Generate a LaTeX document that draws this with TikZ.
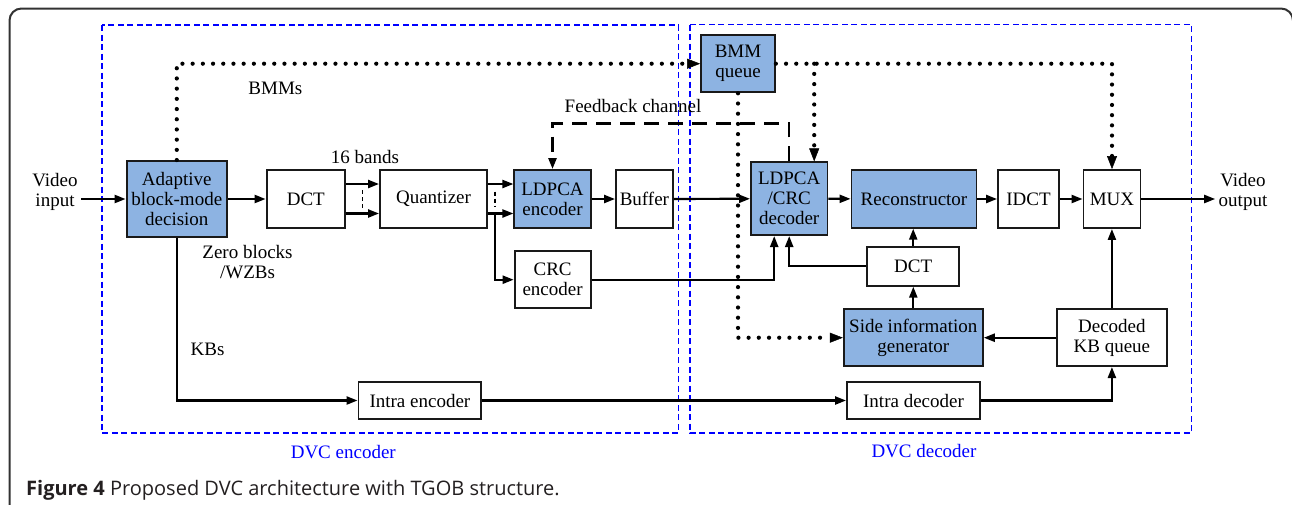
\documentclass[tikz,border=0pt]{standalone}
\usepackage{fontspec}
\setmainfont{Liberation Serif}
\newfontfamily\capfont{Open Sans}
\usetikzlibrary{arrows.meta,calc}
\definecolor{boxblue}{RGB}{141,179,226}
\definecolor{framegray}{RGB}{50,50,50}
\definecolor{captext}{RGB}{35,31,32}
\begin{document}
\begin{tikzpicture}[x=1pt,y=-1pt,
  blk/.style={draw=black!90,line width=1.9pt,inner sep=0pt,align=center,font=\fontsize{19}{20}\selectfont},
  fblk/.style={blk,fill=boxblue},
  lbl/.style={align=center,font=\fontsize{19}{20}\selectfont},
  flow/.style={line width=2.2pt,-{Triangle[length=11pt,width=8pt]}},
  dots/.style={line width=4.2pt,line cap=round,dash pattern=on 0pt off 10.2pt,-{Triangle[length=13pt,width=10pt,line width=0.5pt]}},
  feed/.style={line width=2.4pt,dash pattern=on 15pt off 9pt,-{Triangle[length=11pt,width=8pt]}},
  region/.style={blue,line width=1.5pt,dash pattern=on 6pt off 3.5pt},
  ellip/.style={line width=1.1pt,dash pattern=on 4pt off 3pt}]
\useasboundingbox (0,0) rectangle (1292,504);
\clip (0,0) rectangle (1292,504);
% frame and the two dashed parts
\draw[framegray,line width=2pt,rounded corners=12pt] (9.5,530) -- (9.5,8.5) -- (1293,8.5) -- (1293,530);
\draw[region] (101.8,25) rectangle (678.5,433);
\draw[region] (689.8,24.5) rectangle (1191.5,433);
% boxes of encoder
\node[fblk,minimum width=100.5pt,minimum height=76pt] (abmd) at (176.8,199) {Adaptive\\block-mode\\decision};
\node[blk,minimum width=78.5pt,minimum height=58pt] (dcte) at (305.8,199) {DCT};
\node[blk,minimum width=107pt,minimum height=57.5pt] (quant) at (433.5,199) {Quantizer};
\node[fblk,minimum width=76.3pt,minimum height=58pt] (ldpce) at (552.5,199) {LDPCA\\encoder};
\node[blk,minimum width=56.8pt,minimum height=58pt] (buffer) at (644.4,199) {Buffer};
\node[blk,minimum width=76pt,minimum height=57pt] (crce) at (552.6,279.7) {CRC\\encoder};
\node[blk,minimum width=122.8pt,minimum height=37.6pt] (intrae) at (419.9,400.5) {Intra encoder};
% boxes of decoder
\node[fblk,minimum width=73.8pt,minimum height=57.3pt] (bmmq) at (738,63.7) {BMM\\queue};
\node[fblk,minimum width=76.5pt,minimum height=72.7pt] (ldpcd) at (789.2,198.7) {LDPCA\\/CRC\\decoder};
\node[fblk,minimum width=125pt,minimum height=57.5pt] (recon) at (914,199) {Reconstructor};
\node[blk,minimum width=61pt,minimum height=58pt] (idct) at (1028.5,199) {IDCT};
\node[blk,minimum width=57pt,minimum height=58pt] (mux) at (1112,199) {MUX};
\node[blk,minimum width=92.4pt,minimum height=39pt] (dctd) at (913.2,266.2) {DCT};
\node[fblk,minimum width=139pt,minimum height=56.7pt] (sig) at (913.3,337.7) {Side information\\generator};
\node[blk,minimum width=110.6pt,minimum height=56.7pt] (kbq) at (1111.9,337.7) {Decoded\\KB queue};
\node[blk,minimum width=133pt,minimum height=37.6pt] (intrad) at (913.5,400.5) {Intra decoder};
% labels
\node[lbl] (vin) at (55,191.7) {Video\\input};
\node[lbl] (vout) at (1243,191.7) {Video\\output};
\node[lbl] (bands) at (365,157) {16 bands};
\node[lbl] (bmms) at (275.4,88.3) {BMMs};
\node[lbl] (fb) at (633,106) {Feedback channel};
\node[lbl] (zero) at (247.5,262) {Zero blocks\\/WZBs};
\node[lbl] (kbs) at (207.6,349.3) {KBs};
\node[lbl,text=blue] (enc) at (343.3,451.7) {DVC encoder};
\node[lbl,text=blue] (dec) at (924,450.7) {DVC decoder};
\node[anchor=base west,inner sep=0pt,font=\capfont\fontsize{20}{22}\selectfont,text=captext] (cap) at (26,495) {\textbf{Figure 4} Proposed DVC architecture with TGOB structure.};
% solid lines
\draw[flow] (vin.east |- abmd.west) -- (abmd.west);
\draw[flow] (abmd) -- (dcte);
\draw[flow] ([yshift=15pt]dcte.east) -- ([yshift=15pt]quant.west);
\draw[flow] ([yshift=-14.5pt]dcte.east) -- ([yshift=-14.5pt]quant.west);
\draw[ellip] ($(dcte.east)!.5!(quant.west)+(0,-9)$) -- ++(0,18);
\draw[flow] ([yshift=15pt]quant.east) -- ([yshift=15pt]ldpce.west);
\draw[flow] ([yshift=-14.5pt]quant.east) -- ([yshift=-14.5pt]ldpce.west);
\coordinate (qsplit) at ([xshift=7pt,yshift=-14.5pt]quant.east);
\draw[ellip] ([yshift=22pt]qsplit) -- ([yshift=7pt]qsplit);
\draw[flow] (qsplit) |- (crce.west);
\draw[flow] (ldpce) -- (buffer);
\draw[flow] (buffer) -- (ldpcd);
\draw[flow] (crce.east) -| ([xshift=-15pt]ldpcd.south);
\draw[flow] (dctd.west) -| (ldpcd.south);
\draw[flow] (ldpcd) -- (recon);
\draw[flow] (recon) -- (idct);
\draw[flow] (idct) -- (mux);
\draw[flow] (mux) -- (mux -| vout.west);
\draw[flow] (dctd.north) -- (dctd.north |- recon.south);
\draw[flow] (sig.north) -- (sig.north |- dctd.south);
\draw[flow] (kbq) -- (sig);
\draw[flow] (kbq.north) -- (kbq.north |- mux.south);
\draw[flow] (abmd.south) |- (intrae.west);
\draw[flow] (intrae) -- (intrad);
\draw[flow] (intrad.east) -| (kbq.south);
% feedback channel
\draw[feed] (ldpcd.north) -- ++(0,-38) -| (ldpce.north);
% dotted BMM lines
\coordinate (brk) at ([xshift=25pt]ldpcd.north);
\draw[dots] (abmd.north) |- (bmmq.west);
\draw[dots] (bmmq.east) -| (mux.north);
\draw[dots] (brk |- bmmq.east) -- (brk);
\draw[dots] (bmmq.south) |- (sig.west);
\end{tikzpicture}
\end{document}
